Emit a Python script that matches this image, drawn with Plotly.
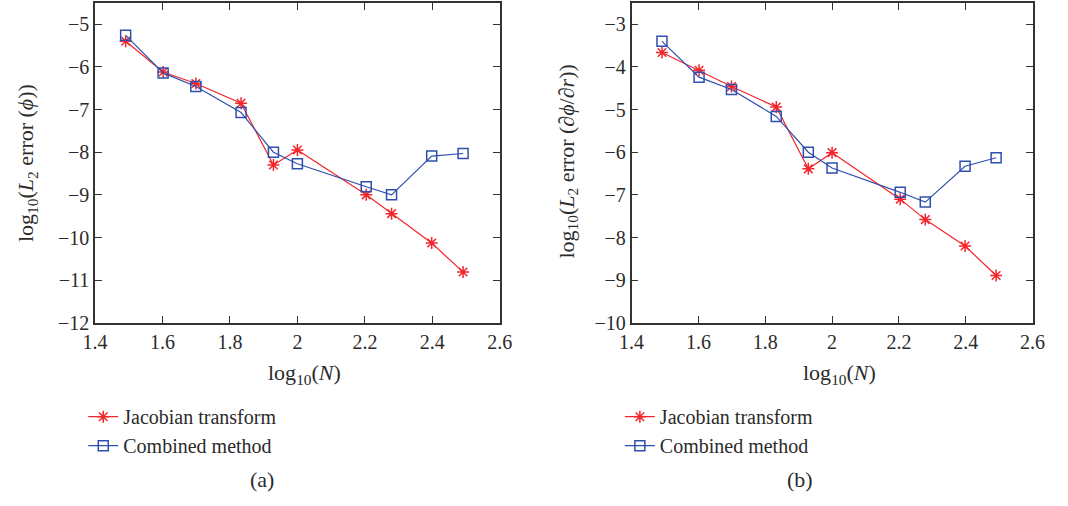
import plotly.graph_objects as go

log10_N = [1.491, 1.602, 1.699, 1.833, 1.929, 2.000, 2.204, 2.279, 2.398, 2.491]

phi_jacobian = [-5.40, -6.12, -6.39, -6.85, -8.30, -7.95, -9.00, -9.44, -10.13, -10.81]
phi_combined = [-5.26, -6.14, -6.46, -7.07, -8.00, -8.27, -8.81, -9.00, -8.09, -8.03]

dphi_jacobian = [-3.66, -4.08, -4.46, -4.94, -6.39, -6.01, -7.10, -7.58, -8.20, -8.89]
dphi_combined = [-3.40, -4.24, -4.53, -5.16, -6.00, -6.37, -6.94, -7.17, -6.33, -6.13]

x_ticks = [1.4, 1.6, 1.8, 2.0, 2.2, 2.4, 2.6]
x_tick_labels = ["1.4", "1.6", "1.8", "2", "2.2", "2.4", "2.6"]
y_ticks_a = [-12, -11, -10, -9, -8, -7, -6, -5]
y_ticks_b = [-10, -9, -8, -7, -6, -5, -4, -3]

RED = "#f2262c"
BLUE = "#2f4fae"
FONT = "Liberation Serif"
TXT = "#2b2b2b"

W, H = 1068, 506

fig = go.Figure()

def add_pair(xa, ya, yj, yc, legend):
    fig.add_trace(go.Scatter(
        x=log10_N, y=yj, mode="lines+markers", name="Jacobian transform",
        line=dict(color=RED, width=1.2),
        marker=dict(symbol="asterisk-open", size=10, color=RED, line=dict(color=RED, width=1.5)),
        xaxis=xa, yaxis=ya, legend=legend))
    fig.add_trace(go.Scatter(
        x=log10_N, y=yc, mode="lines+markers", name="Combined method",
        line=dict(color=BLUE, width=1.2),
        marker=dict(symbol="square-open", size=10, color=BLUE, line=dict(color=BLUE, width=1.5)),
        xaxis=xa, yaxis=ya, legend=legend))

add_pair("x", "y", phi_jacobian, phi_combined, "legend")
add_pair("x2", "y2", dphi_jacobian, dphi_combined, "legend2")

ydom = [1 - 330 / H, 1 - 3 / H]
common_axis = dict(
    showline=True, linecolor="#333333", linewidth=1.5, mirror="ticks",
    ticks="inside", ticklen=7, tickcolor="#333333", tickwidth=1.2,
    showgrid=False, zeroline=False,
    tickfont=dict(family=FONT, size=20, color=TXT),
)

legend_common = dict(xanchor="left", yanchor="top",
                     font=dict(family=FONT, size=20, color=TXT), bgcolor="rgba(0,0,0,0)",
                     tracegroupgap=0, itemwidth=30)

fig.update_layout(
    width=W, height=H,
    margin=dict(l=0, r=0, t=0, b=0),
    paper_bgcolor="white", plot_bgcolor="white",
    font=dict(family=FONT, color=TXT),
    xaxis=dict(domain=[84 / W, 499 / W], range=[1.4, 2.6], tickvals=x_ticks,
               ticktext=x_tick_labels, anchor="y", **common_axis),
    yaxis=dict(domain=ydom, range=[-12, -4.5], tickvals=y_ticks_a, anchor="x", **common_axis),
    xaxis2=dict(domain=[634 / W, 1045 / W], range=[1.4, 2.6], tickvals=x_ticks,
                ticktext=x_tick_labels, anchor="y2", **common_axis),
    yaxis2=dict(domain=ydom, range=[-10, -2.5], tickvals=y_ticks_b, anchor="x2", **common_axis),
    legend=dict(x=72 / W, y=1 - 406 / H, **legend_common),
    legend2=dict(x=622 / W, y=1 - 406 / H, **legend_common),
    showlegend=True,
)

ann = [
    dict(text="log<sub>10</sub>(<i>L</i><sub>2</sub> error (<i>ϕ</i>))", x=15 / W, y=1 - 167 / H,
         textangle=-90),
    dict(text="log<sub>10</sub>(<i>L</i><sub>2</sub> error (∂<i>ϕ</i>/∂<i>r</i>))", x=569 / W, y=1 - 165 / H,
         textangle=-90),
    dict(text="log<sub>10</sub>(<i>N</i>)", x=299 / W, y=1 - 382 / H),
    dict(text="log<sub>10</sub>(<i>N</i>)", x=847 / W, y=1 - 382 / H),
    dict(text="(a)", x=255 / W, y=1 - 490 / H),
    dict(text="(b)", x=807 / W, y=1 - 490 / H),
]
for a in ann:
    fig.add_annotation(xref="paper", yref="paper", showarrow=False,
                       xanchor="center", yanchor="middle",
                       font=dict(family=FONT, size=22, color=TXT), **a)

fig.write_html("out.html")
